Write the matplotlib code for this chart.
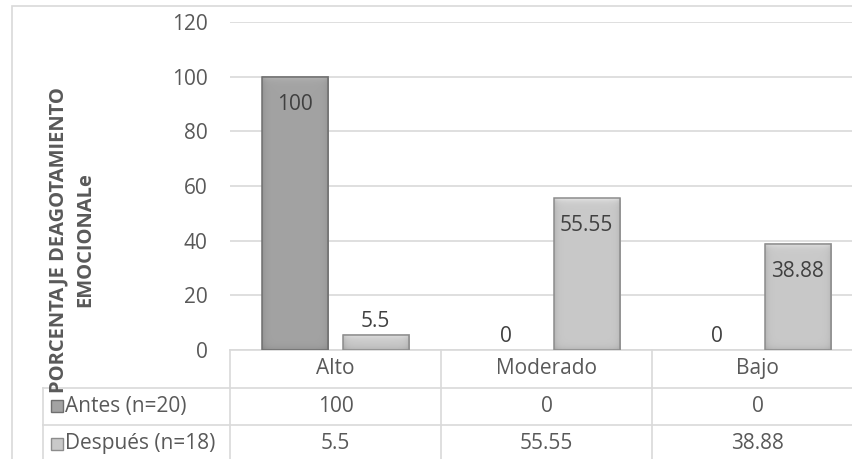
import numpy as np
import matplotlib.pyplot as plt
from matplotlib.patches import Rectangle
from matplotlib.colors import to_rgb
import matplotlib.transforms as mtransforms

categorias = ["Alto", "Moderado", "Bajo"]
series = ["Antes (n=20)", "Después (n=18)"]
antes = [100, 0, 0]
despues = [5.5, 55.55, 38.88]
etiquetas_antes = ["100", "0", "0"]
etiquetas_despues = ["5.5", "55.55", "38.88"]
y_ticks = [0, 20, 40, 60, 80, 100, 120]

plt.rcParams['font.family'] = ['Open Sans', 'DejaVu Sans']
texto = "#595959"
linea = "#d9d9d9"
colores = ["#a3a3a3", "#c9c9c9"]
bordes = ["#6f6f6f", "#8c8c8c"]
fs = 15

W, H = 853, 459
fig = plt.figure(figsize=(W / 100, H / 100), dpi=100)

# outer chart border
fig.patches.append(Rectangle((12 / W, -0.1), 1.2, (H - 6) / H + 0.1, transform=fig.transFigure,
                             fill=False, edgecolor=linea, linewidth=1.2))

# plot area in pixels: x 230..863, y 22..350
ax = fig.add_axes([230 / W, (H - 350) / H, 633 / W, 328 / H])
ax.set_xlim(-0.5, 2.5)
ax.set_ylim(0, 120)
ax.set_yticks(y_ticks)
ax.set_yticklabels([str(v) for v in y_ticks], fontsize=fs, color=texto)
ax.tick_params(axis='y', length=0, pad=16)
ax.set_xticks([])
ax.grid(axis='y', color=linea, linewidth=1.2)
ax.set_axisbelow(True)
for s in ax.spines.values():
    s.set_visible(False)


def bevel(bar, color):
    # soft bevel shading clipped to the bar
    x0, y0 = ax.transData.transform((bar.get_x(), 0))
    x1, y1 = ax.transData.transform((bar.get_x() + bar.get_width(), bar.get_height()))
    nx, ny = max(int(x1 - x0), 2), max(int(y1 - y0), 2)
    base = np.array(to_rgb(color))
    yy, xx = np.mgrid[0:ny, 0:nx].astype(float)
    dside = np.minimum(xx, nx - 1 - xx)
    f = 1 - 0.10 * np.exp(-dside / 3) + 0.14 * np.exp(-yy / 3) - 0.10 * np.exp(-(ny - 1 - yy) / 3)
    img = np.clip(base[None, None, :] * f[..., None], 0, 1)
    ax.imshow(img, extent=(bar.get_x(), bar.get_x() + bar.get_width(), 0, bar.get_height()),
              aspect='auto', zorder=3.2, clip_path=bar, interpolation='bilinear')


x = np.arange(len(categorias))
w = 0.313
off = 0.19
for i, (vals, labs) in enumerate(zip([antes, despues], [etiquetas_antes, etiquetas_despues])):
    pos = x + (off if i else -off)
    bars = ax.bar(pos, vals, w, color=colores[i], linewidth=0, zorder=3)
    ax.bar(pos, vals, w, fill=False, edgecolor=bordes[i],
           linewidth=[1.1 if v > 0 else 0 for v in vals], zorder=3.4)
    for b, v, lab in zip(bars, vals, labs):
        cx = b.get_x() + b.get_width() / 2
        if v > 0:
            bevel(b, colores[i])
        if v > 20:
            ax.annotate(lab, (cx, v), xytext=(0, -20), textcoords='offset points',
                        ha='center', va='center', fontsize=fs, color="#404040", zorder=4)
        else:
            ax.annotate(lab, (cx, v), xytext=(0, 2), textcoords='offset points',
                        ha='center', va='bottom', fontsize=fs, color="#404040", zorder=4)
ax.set_xlim(-0.5, 2.5)
ax.set_ylim(0, 120)

# data table under the axis
tr = mtransforms.blended_transform_factory(ax.transData, ax.transAxes)
rh = 37.5 / 328
x_left = (43 - 230) / 211 - 0.5
kw = dict(transform=tr, color=linea, linewidth=1.2, clip_on=False)
ax.plot([-0.5, 2.6], [0, 0], **kw)
for k in (1, 2):
    ax.plot([x_left, 2.6], [-k * rh, -k * rh], **kw)
for xv in (-0.5, 0.5, 1.5):
    ax.plot([xv, xv], [0, -3.2 * rh], **kw)
ax.plot([x_left, x_left], [-rh, -3.2 * rh], **kw)

for j, c in enumerate(categorias):
    ax.text(j, -0.5 * rh, c, transform=tr, ha='center', va='center', fontsize=fs, color=texto)
    ax.text(j, -1.5 * rh, etiquetas_antes[j], transform=tr, ha='center', va='center', fontsize=fs, color=texto)
    ax.text(j, -2.5 * rh, etiquetas_despues[j], transform=tr, ha='center', va='center', fontsize=fs, color=texto)

for k, nombre in enumerate(series):
    yk = -(1.5 + k) * rh
    mx = (57 - 230) / 211 - 0.5
    ax.plot([mx], [yk], marker='s', markersize=9, color=colores[k], markeredgecolor=bordes[k],
            transform=tr, clip_on=False)
    ax.text((65 - 230) / 211 - 0.5, yk, nombre, transform=tr, ha='left', va='center',
            fontsize=fs, color=texto)

fig.text(72 / W, 1 - 240 / H, "PORCENTAJE DEAGOTAMIENTO\nEMOCIONALe", rotation=90,
         ha='center', va='center', fontsize=14.5, fontweight='bold', color=texto,
         linespacing=1.45, multialignment='center')

fig.savefig("out.png", dpi=100)
